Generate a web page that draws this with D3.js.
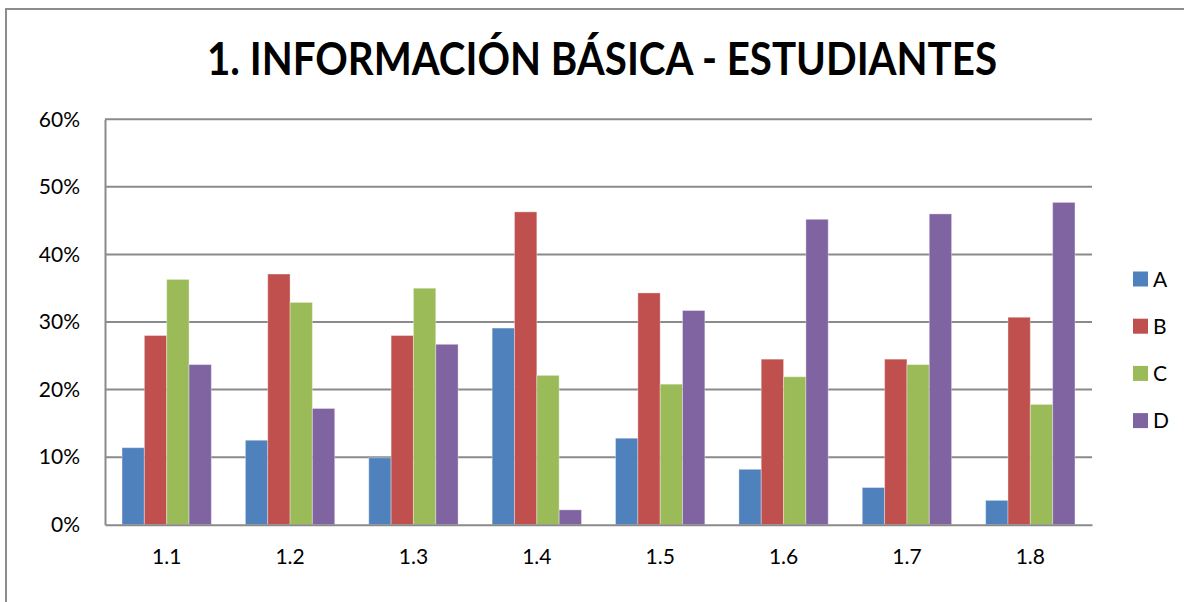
<!DOCTYPE html>
<html>
<head>
<meta charset="utf-8">
<script src="https://cdn.jsdelivr.net/npm/d3@7"></script>
<style>
  body { margin: 0; background: #fff; }
  text { font-family: Lato, "Open Sans", sans-serif; }
</style>
</head>
<body>
<script>
const categories = ["1.1", "1.2", "1.3", "1.4", "1.5", "1.6", "1.7", "1.8"];
const seriesNames = ["A", "B", "C", "D"];
const valuesA = [0.114, 0.125, 0.099, 0.291, 0.128, 0.082, 0.055, 0.036];
const valuesB = [0.280, 0.371, 0.280, 0.463, 0.343, 0.245, 0.245, 0.307];
const valuesC = [0.363, 0.329, 0.350, 0.221, 0.208, 0.219, 0.237, 0.178];
const valuesD = [0.237, 0.172, 0.267, 0.022, 0.317, 0.452, 0.460, 0.477];
const yTicks = [0, 0.1, 0.2, 0.3, 0.4, 0.5, 0.6];
const colors = ["#4F81BD", "#C0504D", "#9BBB59", "#8064A2"];

const allValues = [valuesA, valuesB, valuesC, valuesD];

const width = 1184;
const height = 602;
const margin = {top: 119.3, right: 92, bottom: 77.3, left: 105};

const svg = d3.select("body").append("svg")
  .attr("width", width)
  .attr("height", height);

// outer chart border
svg.append("rect")
  .attr("x", 6)
  .attr("y", 9)
  .attr("width", width + 20)
  .attr("height", height + 20)
  .attr("fill", "none")
  .attr("stroke", "#8c8c8c")
  .attr("stroke-width", 2);

const xscale = d3.scaleBand()
  .domain(categories)
  .range([margin.left, width - margin.right])
  .paddingInner(0.276)
  .paddingOuter(0.138);

const xsub = d3.scaleBand()
  .domain(seriesNames)
  .range([0, xscale.bandwidth()]);

const yscale = d3.scaleLinear()
  .domain([0, 0.6])
  .range([height - margin.bottom, margin.top]);

// gridlines
svg.append("g")
  .selectAll("line")
  .data(yTicks.slice(1))
  .enter()
  .append("line")
  .attr("x1", margin.left)
  .attr("x2", width - margin.right)
  .attr("y1", d => yscale(d))
  .attr("y2", d => yscale(d))
  .attr("stroke", "#8a8a8a")
  .attr("stroke-width", 2);

// bars
const groups = svg.append("g")
  .selectAll("g")
  .data(categories)
  .enter()
  .append("g")
  .attr("transform", d => `translate(${xscale(d)}, 0)`);

groups.selectAll("rect")
  .data((c, i) => seriesNames.map((s, j) => ({s: s, v: allValues[j][i], j: j})))
  .enter()
  .append("rect")
  .attr("x", d => xsub(d.s))
  .attr("y", d => yscale(d.v))
  .attr("width", xsub.bandwidth())
  .attr("height", d => yscale(0) - yscale(d.v))
  .attr("fill", d => colors[d.j])
  .attr("stroke", "#ffffff")
  .attr("stroke-opacity", 0.35)
  .attr("stroke-width", 1);

// axes
const yaxis = d3.axisLeft(yscale)
  .tickValues(yTicks)
  .tickFormat(d3.format(".0%"))
  .tickSize(0)
  .tickPadding(25);

const gy = svg.append("g")
  .attr("transform", `translate(${margin.left}, 0)`)
  .call(yaxis);
gy.select(".domain").attr("stroke", "#8a8a8a").attr("stroke-width", 2);
gy.selectAll("text").attr("font-size", "21px").attr("fill", "#000")
  .style("font-family", "Lato, sans-serif");

const xaxis = d3.axisBottom(xscale).tickSize(0).tickPadding(24);
const gx = svg.append("g")
  .attr("transform", `translate(0, ${yscale(0)})`)
  .call(xaxis);
gx.select(".domain").attr("stroke", "#8a8a8a").attr("stroke-width", 2);
gx.selectAll("text").attr("font-size", "21px").attr("fill", "#000")
  .style("font-family", "Lato, sans-serif");

// title
svg.append("text")
  .attr("x", 602)
  .attr("y", 75)
  .attr("text-anchor", "middle")
  .attr("font-size", "46px")
  .attr("font-weight", "bold")
  .attr("textLength", 790)
  .attr("lengthAdjust", "spacingAndGlyphs")
  .text("1. INFORMACIÓN BÁSICA - ESTUDIANTES");

// legend
const legend = svg.append("g")
  .selectAll("g")
  .data(seriesNames)
  .enter()
  .append("g")
  .attr("transform", (d, i) => `translate(1133, ${279 + i * 47.2})`);

legend.append("rect")
  .attr("x", 0)
  .attr("y", -7.5)
  .attr("width", 15)
  .attr("height", 15)
  .attr("fill", (d, i) => colors[i]);

legend.append("text")
  .attr("x", 20)
  .attr("y", 0)
  .attr("dy", "0.36em")
  .attr("font-size", "21px")
  .text(d => d);
</script>
</body>
</html>
